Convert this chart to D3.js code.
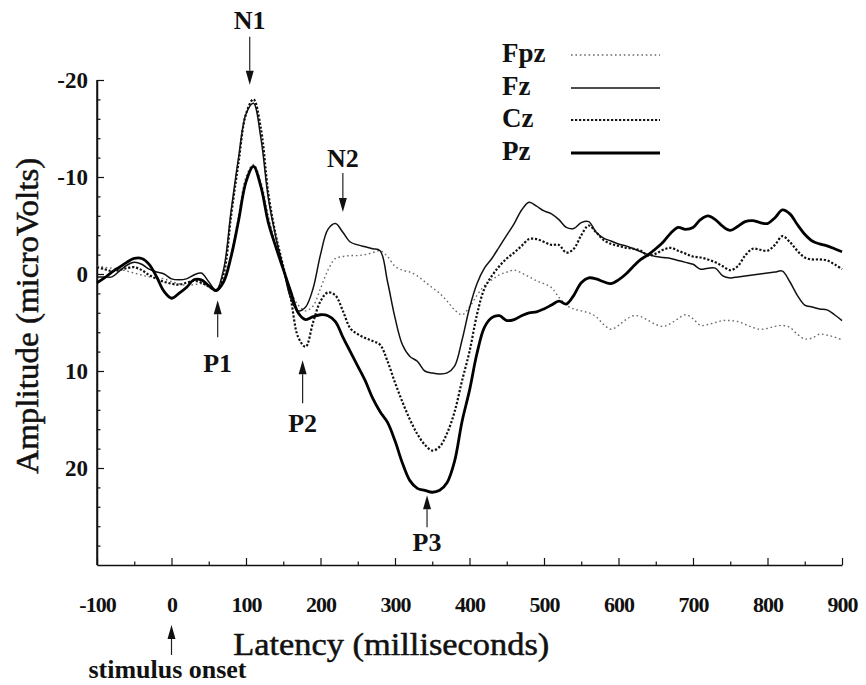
<!DOCTYPE html>
<html><head><meta charset="utf-8">
<script src="https://cdn.jsdelivr.net/npm/d3@7"></script>
<style>body{margin:0;background:#fff}svg{display:block}</style>
</head><body>
<svg id="chart" width="866" height="685"></svg>
<script>
// ---------- data ----------
const latency = [-100,-90,-80,-70,-60,-50,-40,-30,-20,-10,
  0,10,20,30,40,50,60,70,80,90,
  100,110,120,130,140,150,160,170,180,190,
  200,210,220,230,240,250,260,270,280,290,
  300,310,320,330,340,350,360,370,380,390,
  400,410,420,430,440,450,460,470,480,490,
  500,510,520,530,540,550,560,570,580,590,
  600,610,620,630,640,650,660,670,680,690,
  700,710,720,730,740,750,760,770,780,790,
  800,810,820,830,840,850,860,870,880,890,
  900];
const fpz = [-0.8,-0.7,-0.6,-0.5,-0.3,-0.1,0.1,0.3,0.4,0.5,
  0.8,1.0,1.2,1.1,1.0,1.3,1.6,0.8,-2.0,-6.0,
  -10.0,-11.3,-9.5,-6.0,-3.0,-0.5,1.8,3.2,3.8,3.3,
  1.5,-0.4,-1.6,-1.8,-1.9,-1.9,-2.0,-2.2,-2.4,-1.8,
  -0.8,-0.4,-0.2,0.2,0.8,1.4,2.0,2.8,3.7,4.2,
  3.4,2.2,1.2,0.6,0.1,-0.2,-0.4,-0.1,0.3,0.7,
  1.0,1.4,2.4,3.2,3.6,3.8,4.0,4.4,5.2,5.7,
  5.3,4.7,4.3,4.4,4.8,5.2,5.4,5.1,4.6,4.2,
  4.6,5.3,5.2,5.0,4.8,4.8,4.9,5.2,5.5,5.7,
  5.6,5.4,5.3,5.5,6.2,6.7,6.6,6.2,6.3,6.5,
  6.8];
const fz = [0.3,0.3,0.3,-0.3,-0.9,-1.2,-1.0,-0.5,-0.2,0.0,
  0.5,0.6,0.5,0.1,-0.1,0.8,1.7,-0.5,-6.5,-12.0,
  -16.5,-17.6,-14.0,-7.8,-3.8,-0.6,2.5,3.8,3.4,1.5,
  -2.0,-4.6,-5.2,-4.3,-3.3,-3.0,-2.8,-2.6,-2.4,0.8,
  4.5,7.3,8.5,9.0,10.0,10.2,10.3,10.2,9.5,6.8,
  3.5,1.0,-0.6,-1.6,-2.8,-4.0,-5.2,-6.6,-7.4,-7.0,
  -6.5,-6.2,-5.6,-4.8,-4.7,-5.3,-5.4,-4.3,-3.7,-3.4,
  -3.1,-2.9,-2.6,-2.3,-2.0,-1.8,-1.7,-1.6,-1.4,-1.2,
  -1.0,-0.5,-0.6,-0.6,0.2,0.4,0.3,0.2,0.1,0.0,
  -0.1,-0.2,-0.3,0.8,2.2,3.2,3.4,3.6,3.7,4.2,
  4.8];
const cz = [-0.7,-0.5,-0.3,-0.4,-0.6,-0.7,-0.4,0.1,0.5,0.8,
  1.0,1.1,0.9,0.7,0.9,1.3,1.7,0.0,-6.0,-11.5,
  -16.5,-18.0,-15.0,-8.3,-4.0,-0.8,2.5,6.5,7.5,5.0,
  2.8,1.9,2.2,3.8,5.6,6.2,6.6,6.9,7.3,9.0,
  11.2,13.2,15.0,16.5,17.6,18.2,17.8,16.4,14.2,11.0,
  8.0,4.2,1.5,0.2,-0.8,-1.6,-2.2,-2.9,-3.6,-3.6,
  -3.3,-3.0,-3.0,-2.2,-2.6,-4.0,-5.0,-4.3,-3.5,-3.1,
  -2.9,-2.7,-2.6,-2.4,-1.9,-2.1,-2.5,-2.7,-2.4,-2.1,
  -1.8,-1.7,-1.5,-1.2,-0.8,-0.4,-0.8,-1.9,-2.6,-2.5,
  -2.4,-3.0,-3.9,-3.3,-2.4,-1.7,-1.5,-1.5,-1.4,-1.0,
  -0.5];
const pz = [0.9,0.4,-0.2,-0.7,-1.2,-1.6,-1.6,-1.0,0.3,1.8,
  2.5,2.0,1.4,0.6,0.6,1.2,1.7,0.8,-1.8,-5.5,
  -9.5,-11.1,-9.0,-5.3,-2.8,-0.5,1.8,4.0,4.7,4.4,
  4.2,4.3,4.9,6.5,8.0,9.5,11.0,12.8,14.2,15.3,
  17.2,19.5,21.3,22.1,22.3,22.5,22.3,21.5,19.3,15.2,
  12.0,8.2,5.5,4.5,4.3,4.8,4.7,4.3,4.0,3.9,
  3.6,3.2,2.8,3.1,2.2,0.9,0.4,0.5,0.8,1.0,
  0.6,0.0,-0.8,-1.5,-2.0,-2.6,-3.3,-4.2,-4.8,-4.6,
  -4.8,-5.6,-6.0,-5.6,-4.9,-4.5,-4.9,-5.4,-5.5,-5.3,
  -5.2,-5.8,-6.6,-6.2,-5.1,-4.1,-3.4,-3.1,-2.9,-2.6,
  -2.3];
const seriesNames = ["Fpz","Fz","Cz","Pz"];
const xTickLabels = [-100,0,100,200,300,400,500,600,700,800,900];
const xMinorTicks = [-50,50,150,250,350,450,550,650,750,850];
const yTickLabels = [-20,-10,0,10,20];
const yMinorTicks = [-18,-16,-14,-12,-8,-6,-4,-2,2,4,6,8,12,14,16,18,22,24,26,28];
const peakLabels = ["N1","N2","P1","P2","P3"];
const peakLatency = [105,230,62,176,343];
const peakTipAmplitude = [-19.5,-6.4,2.7,8.9,22.8];
const peakPointsDown = [true,true,false,false,false];

// ---------- styles ----------
const serif = '"Liberation Serif","Times New Roman",Times,serif';
const lineStyle = {
  Fpz:{stroke:"#6a6a6a",width:1.4,dash:"1.6,2.8"},
  Fz:{stroke:"#111",width:1.5,dash:null},
  Cz:{stroke:"#111",width:2.2,dash:"2.2,1.8"},
  Pz:{stroke:"#000",width:2.8,dash:null}
};
const arrowLen = {N1:48,N2:39,P1:37,P2:43,P3:32};
const textGap = {N1:8,N2:6,P1:35,P2:29,P3:24};

const values = {Fpz:fpz,Fz:fz,Cz:cz,Pz:pz};
const svg = d3.select("#chart");
const x = d3.scaleLinear().domain([-100,900]).range([97,842]);
const y = d3.scaleLinear().domain([-20,30]).range([80,565]);

// ---------- axes ----------
const axisColor = "#111";
const gy = svg.append("g").attr("transform",`translate(${x(-100)},0)`);
gy.call(d3.axisLeft(y).tickValues(yMinorTicks).tickSize(-3.5).tickSizeOuter(0).tickFormat(""));
gy.call(g=>g.select(".domain").remove());
const gy2 = svg.append("g").attr("transform",`translate(${x(-100)},0)`);
gy2.call(d3.axisLeft(y).tickValues(yTickLabels).tickSize(-7).tickSizeOuter(0).tickPadding(9).tickFormat(d=>d));
gy2.selectAll("text").attr("font-family",serif).attr("font-size",23).attr("font-weight","bold").attr("fill","#111");

const gx = svg.append("g").attr("transform",`translate(0,${y(30)})`);
gx.call(d3.axisBottom(x).tickValues(xMinorTicks).tickSize(-3.5).tickSizeOuter(0).tickFormat(""));
gx.call(g=>g.select(".domain").remove());
const gx2 = svg.append("g").attr("transform",`translate(0,${y(30)})`);
gx2.call(d3.axisBottom(x).tickValues(xTickLabels).tickSize(-7).tickSizeOuter(0).tickFormat(d=>d));
gx2.selectAll("text").attr("font-family",serif).attr("font-size",22).attr("font-weight","bold")
   .attr("letter-spacing","-1").attr("fill","#111").attr("dy",0).attr("y",47);

svg.selectAll(".domain").attr("stroke",axisColor).attr("stroke-width",1.5);
svg.selectAll(".tick line").attr("stroke",axisColor).attr("stroke-width",1.2);
svg.append("line").attr("x1",x(-100)).attr("x2",x(-100)).attr("y1",y(-20)).attr("y2",y(30))
  .attr("stroke",axisColor).attr("stroke-width",1.5);

// ---------- axis titles ----------
svg.append("text").attr("transform",`translate(31,${y(4.3)}) rotate(-90)`)
  .attr("text-anchor","middle").attr("dominant-baseline","middle")
  .attr("font-family",serif).attr("font-size",31).attr("fill","#111")
  .attr("stroke","#111").attr("stroke-width",0.5)
  .attr("textLength",316).attr("lengthAdjust","spacingAndGlyphs")
  .text("Amplitude (microVolts)");
svg.append("text").attr("x",x(295)).attr("y",655)
  .attr("text-anchor","middle")
  .attr("font-family",serif).attr("font-size",31).attr("fill","#111")
  .attr("stroke","#111").attr("stroke-width",0.5)
  .attr("textLength",316).attr("lengthAdjust","spacingAndGlyphs")
  .text("Latency (milliseconds)");

// ---------- series ----------
const line = d3.line().x((d,i)=>x(latency[i])).y(d=>y(d)).curve(d3.curveCatmullRom.alpha(0.5));
["Fpz","Cz","Fz","Pz"].forEach(name=>{
  const s = lineStyle[name];
  svg.append("path").datum(values[name]).attr("d",line)
    .attr("fill","none").attr("stroke",s.stroke).attr("stroke-width",s.width)
    .attr("stroke-dasharray",s.dash).attr("stroke-linejoin","round");
});

// ---------- legend ----------
const legY = [55,88,120,153];
seriesNames.forEach((name,i)=>{
  const s = lineStyle[name];
  svg.append("text").attr("x",502).attr("y",legY[i]+7).attr("font-family",serif)
    .attr("font-size",27).attr("font-weight","bold").attr("fill","#111").text(name);
  svg.append("line").attr("x1",571).attr("x2",660).attr("y1",legY[i]).attr("y2",legY[i])
    .attr("stroke",s.stroke).attr("stroke-width",s.width).attr("stroke-dasharray",s.dash);
});

// ---------- arrows & peak labels ----------
function arrow(px, tipY, len, down){
  const dir = down ? 1 : -1;
  const tailY = tipY - dir*len;
  const headLen = 14, half = 4;
  svg.append("line").attr("x1",px).attr("x2",px).attr("y1",tailY).attr("y2",tipY - dir*headLen)
    .attr("stroke","#222").attr("stroke-width",1.2);
  svg.append("path").attr("d",`M${px},${tipY} L${px-half},${tipY-dir*headLen} L${px+half},${tipY-dir*headLen} Z`)
    .attr("fill","#111");
  return tailY;
}
peakLabels.forEach((lab,i)=>{
  const px = x(peakLatency[i]);
  const tip = y(peakTipAmplitude[i]);
  const down = peakPointsDown[i];
  const tail = arrow(px, tip, arrowLen[lab], down);
  const ty = down ? tail - textGap[lab] : tail + textGap[lab];
  svg.append("text").attr("x",px).attr("y",ty).attr("text-anchor","middle")
    .attr("font-family",serif).attr("font-size",26).attr("font-weight","bold").attr("fill","#111").text(lab);
});
// stimulus onset
arrow(x(0), 625, 30, false);
svg.append("text").attr("x",x(0)-4).attr("y",678).attr("text-anchor","middle")
  .attr("font-family",serif).attr("font-size",25).attr("font-weight","bold").attr("fill","#111")
  .attr("textLength",158).attr("lengthAdjust","spacingAndGlyphs")
  .text("stimulus onset");
</script>
</body></html>
